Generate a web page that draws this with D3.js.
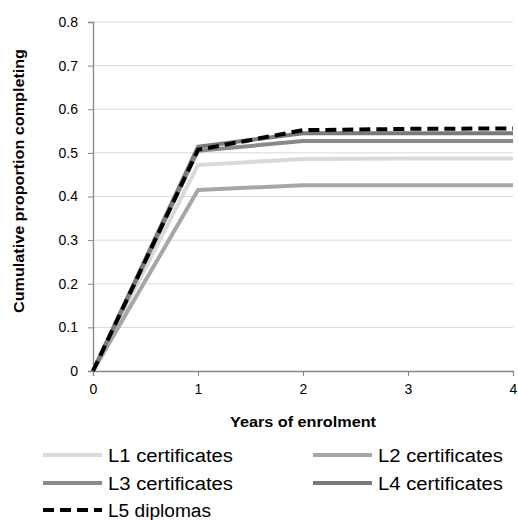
<!DOCTYPE html>
<html><head><meta charset="utf-8">
<script src="https://cdn.jsdelivr.net/npm/d3@7"></script>
<style>body{margin:0;background:#fff}svg{display:block}text{font-family:"Liberation Sans",Arial,sans-serif}</style>
</head><body>
<svg id="c" width="518" height="520"></svg>
<script>
const years = [0, 1, 2, 3, 4];
const seriesNames = ["L1 certificates", "L2 certificates", "L3 certificates", "L4 certificates", "L5 diplomas"];
const l1 = [0, 0.472, 0.486, 0.487, 0.487];
const l2 = [0, 0.415, 0.426, 0.426, 0.426];
const l3 = [0, 0.505, 0.527, 0.527, 0.527];
const l4 = [0, 0.514, 0.545, 0.545, 0.545];
const l5 = [0, 0.507, 0.552, 0.555, 0.556];
const yTicks = [0, 0.1, 0.2, 0.3, 0.4, 0.5, 0.6, 0.7, 0.8];
const xTicks = [0, 1, 2, 3, 4];

const styles = [
  {color: "#d9d9d9", dash: null},
  {color: "#a6a6a6", dash: null},
  {color: "#8a8a8a", dash: null},
  {color: "#7a7a7a", dash: null},
  {color: "#000000", dash: "11,6"}
];
const data = [l1, l2, l3, l4, l5];

const svg = d3.select("#c");
const x = d3.scaleLinear().domain([0, 4]).range([93, 513]);
const y = d3.scaleLinear().domain([0, 0.8]).range([371, 22]);

svg.append("g").selectAll("line").data(yTicks.slice(1)).join("line")
  .attr("x1", x(0)).attr("x2", x(4)).attr("y1", d => y(d)).attr("y2", d => y(d))
  .attr("stroke", "#d9d9d9").attr("stroke-width", 1);

const yAxis = svg.append("g").attr("transform", `translate(${x(0)},0)`)
  .call(d3.axisLeft(y).tickValues(yTicks).tickSize(5).tickPadding(10).tickFormat(d => d === 0 ? "0" : d3.format(".1f")(d)));
const xAxis = svg.append("g").attr("transform", `translate(0,${y(0)})`)
  .call(d3.axisBottom(x).tickValues(xTicks).tickSize(5).tickPadding(8).tickFormat(d3.format("d")));
[yAxis, xAxis].forEach(a => {
  a.select(".domain").attr("stroke", "#868686").attr("stroke-width", 1.3);
  a.selectAll(".tick line").attr("stroke", "#868686");
  a.selectAll(".tick text").attr("font-size", 14).attr("fill", "#000").style("font-family", '"Liberation Sans",Arial,sans-serif');
});

const line = d3.line().x((d, i) => x(years[i])).y(d => y(d));
data.forEach((s, i) => {
  svg.append("path").datum(s).attr("d", line).attr("fill", "none")
    .attr("stroke", styles[i].color).attr("stroke-width", 4)
    .attr("stroke-linejoin", "round")
    .attr("stroke-dasharray", styles[i].dash);
});

svg.append("text").attr("x", 303).attr("y", 427).attr("text-anchor", "middle")
  .attr("font-size", 14).attr("font-weight", "bold")
  .attr("textLength", 146).attr("lengthAdjust", "spacingAndGlyphs").text("Years of enrolment");
svg.append("text").attr("transform", "translate(24,181) rotate(-90)").attr("text-anchor", "middle")
  .attr("font-size", 14).attr("font-weight", "bold")
  .attr("textLength", 264).attr("lengthAdjust", "spacingAndGlyphs").text("Cumulative proportion completing");

const legPos = [[43, 455], [313, 455], [43, 483], [313, 483], [43, 510]];
const legLen = [125, 125, 125, 125, 103];
seriesNames.forEach((n, i) => {
  const [lx, ly] = legPos[i];
  svg.append("line").attr("x1", lx).attr("x2", lx + 59).attr("y1", ly).attr("y2", ly)
    .attr("stroke", styles[i].color).attr("stroke-width", 4).attr("stroke-dasharray", styles[i].dash);
  svg.append("text").attr("x", lx + 65).attr("y", ly + 6.5).attr("font-size", 18)
    .attr("textLength", legLen[i]).attr("lengthAdjust", "spacingAndGlyphs").text(n);
});
</script>
</body></html>
